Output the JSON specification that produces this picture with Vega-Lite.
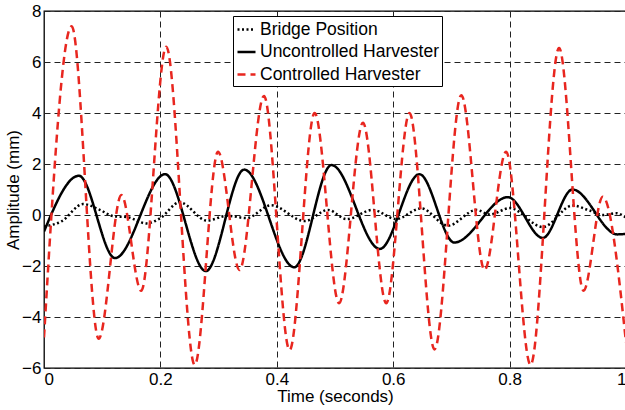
{
  "$schema": "https://vega.github.io/schema/vega-lite/v6.json",
  "width": 582,
  "height": 357,
  "autosize": {"type": "none"},
  "padding": {"left": 44, "top": 11, "right": 0, "bottom": 42},
  "background": "white",
  "config": {
    "font": "Liberation Sans",
    "view": {"stroke": "black", "strokeWidth": 1.3},
    "axis": {
      "domain": false,
      "ticks": false,
      "grid": true,
      "gridColor": "#222",
      "gridDash": [6, 4],
      "gridWidth": 1,
      "gridOpacity": 1,
      "labelFont": "Liberation Sans",
      "labelFontSize": 17,
      "labelColor": "black",
      "titleFont": "Liberation Sans",
      "titleFontSize": 17,
      "titleFontWeight": "normal",
      "titleColor": "black"
    }
  },
  "data": {
    "values": [
      {"t": 0, "y": -0.45, "series": "Bridge Position"},
      {"t": 0.03, "y": -0.25, "series": "Bridge Position"},
      {"t": 0.067, "y": 0.43, "series": "Bridge Position"},
      {"t": 0.096, "y": 0.2, "series": "Bridge Position"},
      {"t": 0.12, "y": -0.05, "series": "Bridge Position"},
      {"t": 0.142, "y": -0.08, "series": "Bridge Position"},
      {"t": 0.176, "y": -0.33, "series": "Bridge Position"},
      {"t": 0.2, "y": -0.12, "series": "Bridge Position"},
      {"t": 0.233, "y": 0.5, "series": "Bridge Position"},
      {"t": 0.28, "y": -0.22, "series": "Bridge Position"},
      {"t": 0.315, "y": -0.03, "series": "Bridge Position"},
      {"t": 0.348, "y": -0.12, "series": "Bridge Position"},
      {"t": 0.39, "y": 0.38, "series": "Bridge Position"},
      {"t": 0.448, "y": -0.24, "series": "Bridge Position"},
      {"t": 0.488, "y": 0.2, "series": "Bridge Position"},
      {"t": 0.52, "y": -0.16, "series": "Bridge Position"},
      {"t": 0.565, "y": 0.2, "series": "Bridge Position"},
      {"t": 0.605, "y": -0.16, "series": "Bridge Position"},
      {"t": 0.648, "y": 0.26, "series": "Bridge Position"},
      {"t": 0.694, "y": -0.42, "series": "Bridge Position"},
      {"t": 0.743, "y": 0.2, "series": "Bridge Position"},
      {"t": 0.766, "y": 0.02, "series": "Bridge Position"},
      {"t": 0.8, "y": 0.27, "series": "Bridge Position"},
      {"t": 0.857, "y": -0.47, "series": "Bridge Position"},
      {"t": 0.908, "y": 0.37, "series": "Bridge Position"},
      {"t": 0.937, "y": 0.18, "series": "Bridge Position"},
      {"t": 0.96, "y": 0.0, "series": "Bridge Position"},
      {"t": 0.983, "y": 0.07, "series": "Bridge Position"},
      {"t": 1.0, "y": -0.1, "series": "Bridge Position"},

      {"t": 0, "y": -0.65, "series": "Uncontrolled Harvester"},
      {"t": 0.06, "y": 1.54, "series": "Uncontrolled Harvester"},
      {"t": 0.122, "y": -1.69, "series": "Uncontrolled Harvester"},
      {"t": 0.208, "y": 1.6, "series": "Uncontrolled Harvester"},
      {"t": 0.278, "y": -2.2, "series": "Uncontrolled Harvester"},
      {"t": 0.344, "y": 1.78, "series": "Uncontrolled Harvester"},
      {"t": 0.43, "y": -2.05, "series": "Uncontrolled Harvester"},
      {"t": 0.494, "y": 1.96, "series": "Uncontrolled Harvester"},
      {"t": 0.577, "y": -1.33, "series": "Uncontrolled Harvester"},
      {"t": 0.645, "y": 1.6, "series": "Uncontrolled Harvester"},
      {"t": 0.705, "y": -1.08, "series": "Uncontrolled Harvester"},
      {"t": 0.797, "y": 0.7, "series": "Uncontrolled Harvester"},
      {"t": 0.857, "y": -0.9, "series": "Uncontrolled Harvester"},
      {"t": 0.908, "y": 1.0, "series": "Uncontrolled Harvester"},
      {"t": 0.985, "y": -0.76, "series": "Uncontrolled Harvester"},
      {"t": 1.0, "y": -0.74, "series": "Uncontrolled Harvester"},

      {"t": 0, "y": -4.8, "series": "Controlled Harvester"},
      {"t": 0.0475, "y": 7.4, "series": "Controlled Harvester"},
      {"t": 0.094, "y": -4.85, "series": "Controlled Harvester"},
      {"t": 0.133, "y": 0.78, "series": "Controlled Harvester"},
      {"t": 0.167, "y": -2.97, "series": "Controlled Harvester"},
      {"t": 0.21, "y": 6.6, "series": "Controlled Harvester"},
      {"t": 0.259, "y": -5.88, "series": "Controlled Harvester"},
      {"t": 0.299, "y": 2.48, "series": "Controlled Harvester"},
      {"t": 0.336, "y": -2.16, "series": "Controlled Harvester"},
      {"t": 0.378, "y": 4.67, "series": "Controlled Harvester"},
      {"t": 0.422, "y": -5.3, "series": "Controlled Harvester"},
      {"t": 0.465, "y": 4.0, "series": "Controlled Harvester"},
      {"t": 0.507, "y": -3.46, "series": "Controlled Harvester"},
      {"t": 0.548, "y": 3.62, "series": "Controlled Harvester"},
      {"t": 0.588, "y": -3.46, "series": "Controlled Harvester"},
      {"t": 0.628, "y": 4.0, "series": "Controlled Harvester"},
      {"t": 0.671, "y": -5.27, "series": "Controlled Harvester"},
      {"t": 0.717, "y": 4.7, "series": "Controlled Harvester"},
      {"t": 0.757, "y": -2.16, "series": "Controlled Harvester"},
      {"t": 0.794, "y": 2.48, "series": "Controlled Harvester"},
      {"t": 0.836, "y": -5.88, "series": "Controlled Harvester"},
      {"t": 0.885, "y": 6.55, "series": "Controlled Harvester"},
      {"t": 0.927, "y": -2.97, "series": "Controlled Harvester"},
      {"t": 0.96, "y": 0.72, "series": "Controlled Harvester"},
      {"t": 1.0, "y": -5.0, "series": "Controlled Harvester"}
    ]
  },
  "mark": {"type": "line", "interpolate": "monotone", "strokeWidth": 2.5, "clip": true},
  "encoding": {
    "x": {
      "field": "t",
      "type": "quantitative",
      "scale": {"domain": [0, 1], "nice": false},
      "axis": {"values": [0, 0.2, 0.4, 0.6, 0.8, 1], "format": ".1~f", "labelPadding": 3, "title": "Time (seconds)", "titlePadding": 1}
    },
    "y": {
      "field": "y",
      "type": "quantitative",
      "scale": {"domain": [-6, 8], "nice": false},
      "axis": {"values": [-6, -4, -2, 0, 2, 4, 6, 8], "labelPadding": 3, "title": "Amplitude (mm)", "titlePadding": -1}
    },
    "color": {
      "field": "series",
      "type": "nominal",
      "scale": {"domain": ["Bridge Position", "Uncontrolled Harvester", "Controlled Harvester"], "range": ["black", "black", "#e8261f"]},
      "legend": {
        "title": null,
        "orient": "none",
        "legendX": 189,
        "legendY": 5,
        "strokeColor": "black",
        "fillColor": "white",
        "padding": 3,
        "symbolType": "stroke",
        "symbolSize": 324,
        "symbolStrokeWidth": 2.5,
        "labelFontSize": 17.5,
        "labelFont": "Liberation Sans",
        "labelColor": "black",
        "labelLimit": 400,
        "labelOffset": 3,
        "rowPadding": 3.5
      }
    },
    "strokeDash": {
      "field": "series",
      "type": "nominal",
      "scale": {"domain": ["Bridge Position", "Uncontrolled Harvester", "Controlled Harvester"], "range": [[2, 2.5], [1, 0], [8, 5]]},
      "legend": {
        "title": null,
        "orient": "none",
        "legendX": 189,
        "legendY": 5,
        "strokeColor": "black",
        "fillColor": "white",
        "padding": 3,
        "symbolType": "stroke",
        "symbolSize": 324,
        "symbolStrokeWidth": 2.5,
        "labelFontSize": 17.5,
        "labelFont": "Liberation Sans",
        "labelColor": "black",
        "labelLimit": 400,
        "labelOffset": 3,
        "rowPadding": 3.5
      }
    }
  }
}
